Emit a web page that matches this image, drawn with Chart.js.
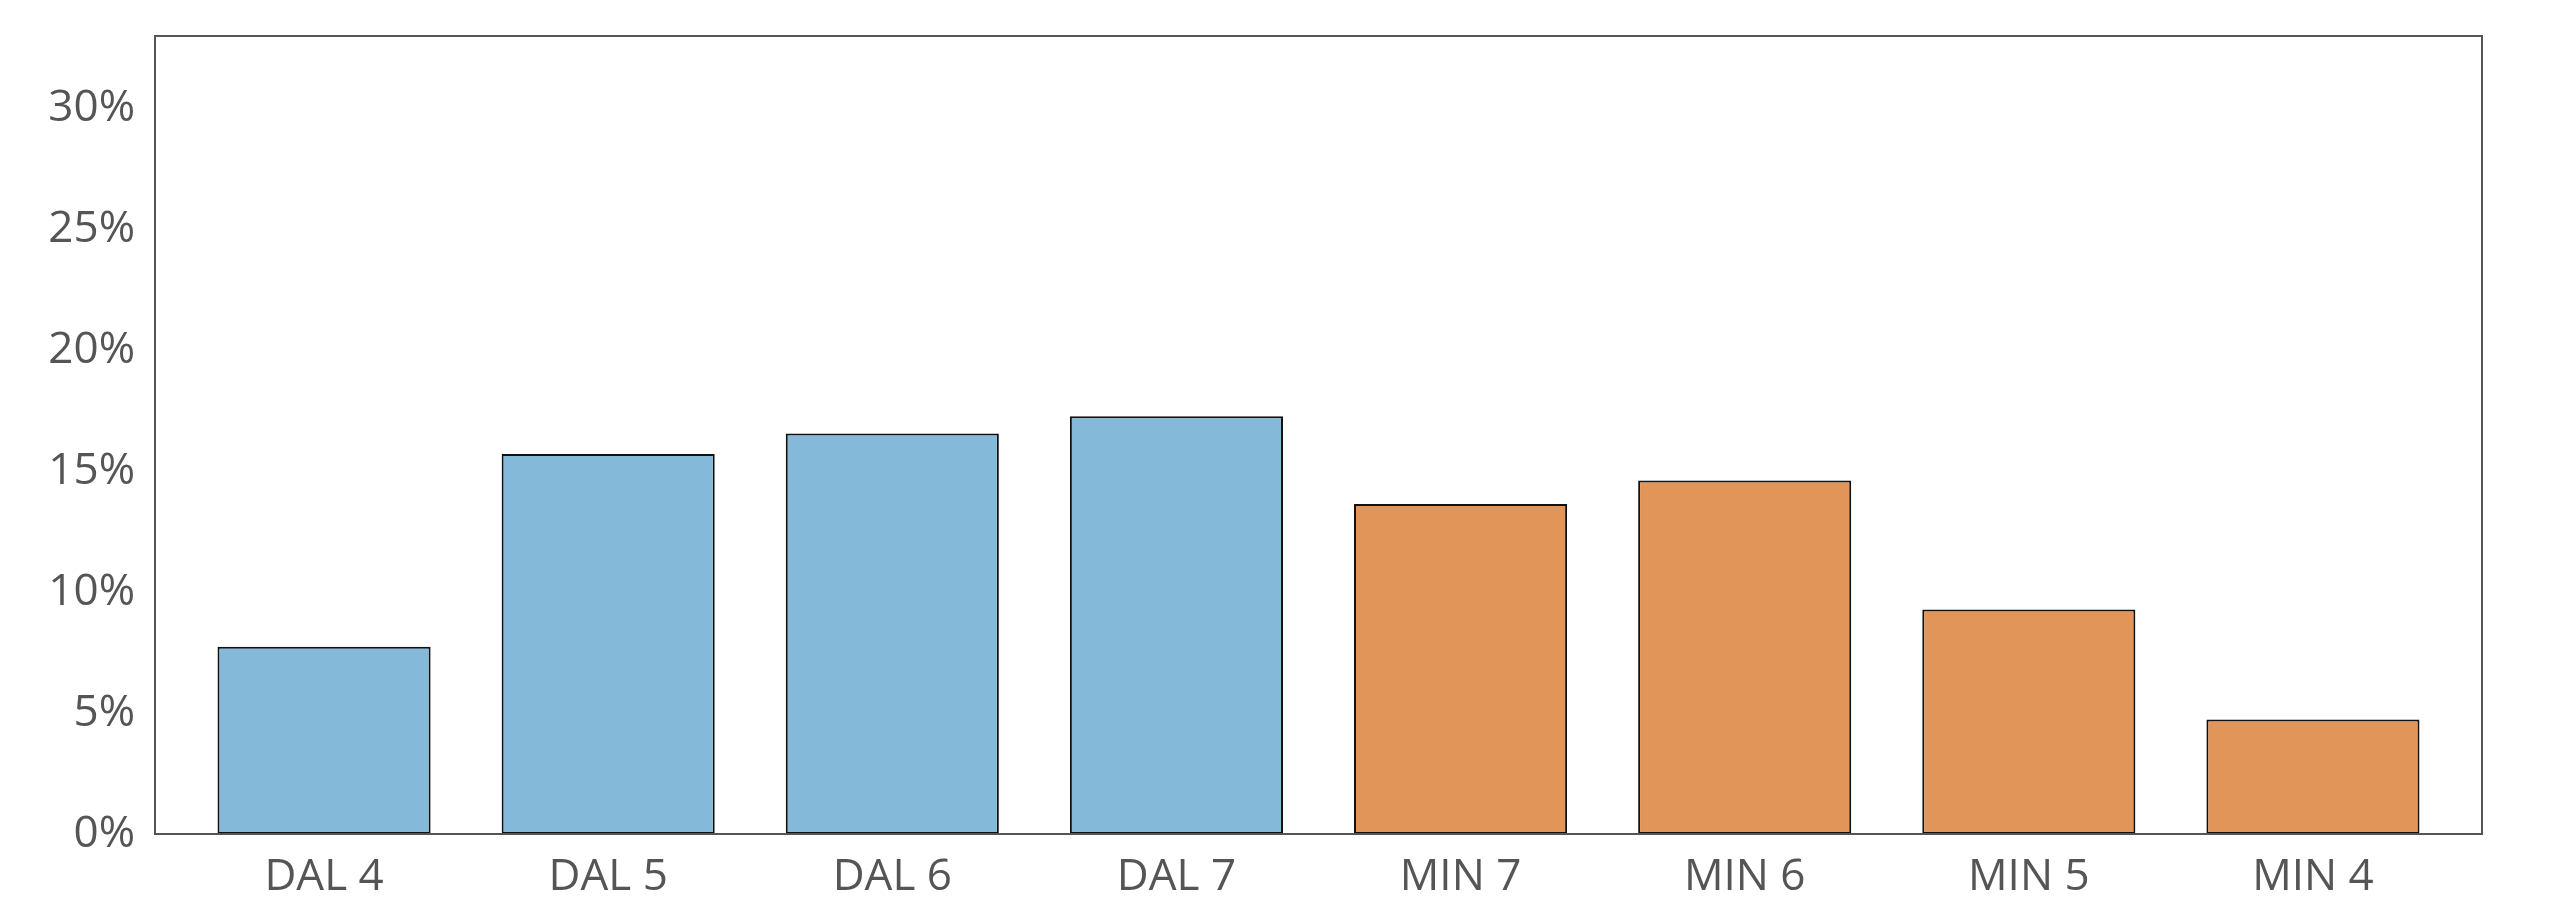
<!DOCTYPE html>
<html>
<head>
<meta charset="utf-8">
<script src="https://cdn.jsdelivr.net/npm/chart.js@4.4.1/dist/chart.umd.min.js"></script>
<style>
  html, body { margin: 0; padding: 0; background: #ffffff; }
  #wrap { width: 2560px; height: 921px; position: relative; }
</style>
</head>
<body>
<div id="wrap"><canvas id="c" width="2560" height="921"></canvas></div>
<script>
const categories = ["DAL 4", "DAL 5", "DAL 6", "DAL 7", "MIN 7", "MIN 6", "MIN 5", "MIN 4"];
const values = [7.74, 15.71, 16.56, 17.28, 13.65, 14.62, 9.28, 4.74];
const barColors = ["#85b9da", "#85b9da", "#85b9da", "#85b9da", "#e29558", "#e29558", "#e29558", "#e29558"];
const yTicks = [0, 5, 10, 15, 20, 25, 30];

const FONT = { family: "'Open Sans'", size: 44 };
const TEXT = "#555555";

const framePlugin = {
  id: 'frame',
  afterDraw(chart) {
    const a = chart.chartArea, ctx = chart.ctx;
    ctx.save();
    ctx.strokeStyle = "#555555";
    ctx.lineWidth = 2;
    ctx.strokeRect(a.left, a.top, a.right - a.left, a.bottom - a.top);
    ctx.restore();
  }
};

new Chart(document.getElementById('c'), {
  type: 'bar',
  data: {
    datasets: [{
      data: values.map((v, i) => ({ x: i, y: v })),
      backgroundColor: barColors,
      borderColor: "#111111",
      borderWidth: 2,
      borderSkipped: false,
      barPercentage: 0.75,
      categoryPercentage: 1.0
    }]
  },
  plugins: [framePlugin],
  options: {
    responsive: false,
    animation: false,
    devicePixelRatio: 1,
    layout: { padding: { left: 0, top: 36, right: 78, bottom: 0 } },
    plugins: { legend: { display: false }, tooltip: { enabled: false } },
    scales: {
      x: {
        type: 'linear',
        offset: false,
        min: -0.595,
        max: categories.length - 1 + 0.595,
        grid: { display: false, drawTicks: false, offset: false },
        border: { display: true, color: "#555555", width: 2 },
        afterBuildTicks(scale) { scale.ticks = categories.map((_, i) => ({ value: i })); },
        afterFit(scale) { scale.height = 87; scale.paddingLeft = 0; scale.paddingRight = 0; },
        ticks: {
          font: FONT, color: TEXT, padding: 17, maxRotation: 0, autoSkip: false,
          callback: (v) => categories[v]
        }
      },
      y: {
        min: 0,
        max: 33,
        grid: { display: false, drawTicks: false },
        border: { display: true, color: "#555555", width: 2 },
        afterBuildTicks(scale) { scale.ticks = yTicks.map(v => ({ value: v })); },
        afterFit(scale) { scale.width = 155; scale.paddingTop = 0; scale.paddingBottom = 0; },
        ticks: {
          font: FONT, color: TEXT, padding: 20,
          callback: (v) => v + '%'
        }
      }
    }
  }
});
</script>
</body>
</html>
